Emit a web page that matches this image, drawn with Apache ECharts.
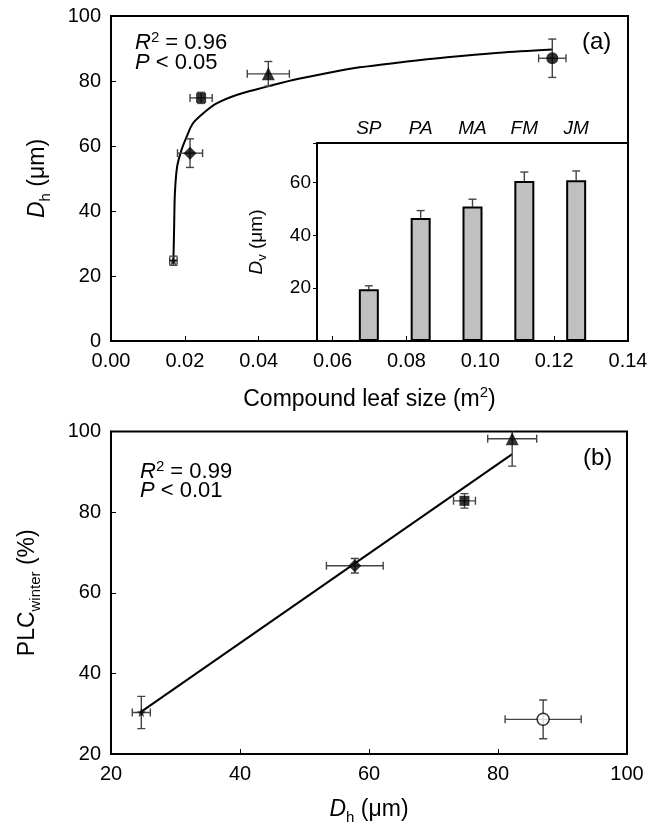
<!DOCTYPE html>
<html>
<head>
<meta charset="utf-8">
<script src="https://cdn.jsdelivr.net/npm/echarts@6/dist/echarts.min.js"></script>
<style>
  html, body { margin: 0; padding: 0; background: #fff; }
  #chart { width: 667px; height: 826px; }
</style>
</head>
<body>
<div id="chart"></div>
<script>
// point order: star, diamond, square, triangle, circle
const leafSize = [0.0169, 0.0214, 0.0244, 0.0426, 0.1195];
const leafSizeErr = [0.001, 0.0034, 0.003, 0.0057, 0.0037];
const dh = [24.7, 57.8, 74.8, 82.2, 87.0];
const dhErr = [1.4, 4.4, 1.7, 3.8, 5.9];
const plc = [30.3, 66.7, 82.8, 98.2, 28.6];
const plcErr = [4.0, 1.8, 1.8, 6.8, 4.8];

// fitted curve in (a)
const fitAX = [0.0169, 0.0171, 0.0173, 0.0179, 0.0191, 0.0205, 0.0222, 0.0250, 0.0286, 0.0340, 0.0403, 0.0493, 0.0583, 0.0673, 0.0781, 0.0910, 0.1051, 0.1195];
const fitAY = [24.7, 35.2, 45.4, 53.6, 58.8, 62.9, 67.0, 70.1, 73.1, 75.7, 77.7, 80.3, 82.4, 84.2, 85.7, 87.3, 88.7, 89.7];
// regression line in (b)
const fitBX = [24.7, 82.2];
const fitBY = [30.5, 94.4];

// inset bars
const species = ['SP', 'PA', 'MA', 'FM', 'JM'];
const dv = [19.6, 46.6, 50.9, 60.6, 60.9];
const dvErr = [1.3, 2.8, 2.8, 3.4, 3.5];

const FONT = '"Liberation Sans", Arial, sans-serif';
const starPath = 'path://M0,-10L2.35,-3.24L9.51,-3.09L3.8,1.24L5.88,8.09L0,4L-5.88,8.09L-3.8,1.24L-9.51,-3.09L-2.35,-3.24Z';
const diamondPath = 'path://M0,-10L10,0L0,10L-10,0Z';
const symbols = [starPath, diamondPath, 'rect', 'triangle', 'circle'];
const sizes = [9, 13, 10, 13, 12];

function errRender(params, api) {
  const x = api.value(0), y = api.value(1), ex = api.value(2), ey = api.value(3);
  const cap = 4;
  const style = { stroke: '#444', lineWidth: 1.4 };
  const l = api.coord([x - ex, y]), r = api.coord([x + ex, y]);
  const t = api.coord([x, y + ey]), b = api.coord([x, y - ey]);
  const shapes = [
    [l, r], [[l[0], l[1] - cap], [l[0], l[1] + cap]], [[r[0], r[1] - cap], [r[0], r[1] + cap]],
    [t, b], [[t[0] - cap, t[1]], [t[0] + cap, t[1]]], [[b[0] - cap, b[1]], [b[0] + cap, b[1]]]
  ];
  return {
    type: 'group',
    children: shapes.map(s => ({
      type: 'line',
      shape: { x1: s[0][0], y1: s[0][1], x2: s[1][0], y2: s[1][1] },
      style: style
    }))
  };
}

function barErrRender(params, api) {
  const x = api.value(0), y = api.value(1), ey = api.value(2);
  const top = api.coord([x, y + ey]), base = api.coord([x, y]);
  const style = { stroke: '#444', lineWidth: 1.4 };
  return {
    type: 'group',
    children: [
      { type: 'line', shape: { x1: base[0], y1: base[1], x2: top[0], y2: top[1] }, style: style },
      { type: 'line', shape: { x1: top[0] - 4, y1: top[1], x2: top[0] + 4, y2: top[1] }, style: style }
    ]
  };
}

function richSet(size, lh) {
  const sub = Math.round(size * 0.66);
  return {
    i: { fontStyle: 'italic', fontSize: size, fontFamily: FONT, color: '#000', lineHeight: lh, verticalAlign: 'middle' },
    n: { fontSize: size, fontFamily: FONT, color: '#000', lineHeight: lh, verticalAlign: 'middle' },
    sub: { fontSize: sub, fontFamily: FONT, color: '#000', lineHeight: sub, verticalAlign: 'bottom' },
    sup: { fontSize: sub, fontFamily: FONT, color: '#000', lineHeight: sub, verticalAlign: 'top' }
  };
}

const axisLine = { show: true, lineStyle: { color: '#000', width: 2 } };
const label20 = { color: '#000', fontSize: 20, fontFamily: FONT };
const richTitle = richSet(23, 30);
const richNote = richSet(22, 26);

const chart = echarts.init(document.getElementById('chart'), null, { renderer: 'canvas' });

const option = {
  backgroundColor: '#fff',
  animation: false,
  grid: [
    { left: 111, top: 16, width: 517, height: 325, show: true, borderColor: '#000', borderWidth: 2, backgroundColor: 'transparent' },
    { left: 111, top: 431.5, width: 516, height: 323.5, show: true, borderColor: '#000', borderWidth: 2, backgroundColor: 'transparent' },
    { left: 317, top: 143, width: 311, height: 198, show: true, borderColor: '#000', borderWidth: 2, backgroundColor: '#fff' }
  ],
  xAxis: [
    {
      gridIndex: 0, type: 'value', min: 0, max: 0.14, interval: 0.02,
      axisLine: axisLine, axisTick: { inside: true, length: 5, lineStyle: { color: '#000' } },
      axisLabel: Object.assign({ margin: 10, formatter: v => v.toFixed(2) }, label20),
      splitLine: { show: false },
      name: '{n|Compound leaf size (m}{sup|2}{n|)}', nameLocation: 'middle', nameGap: 44,
      nameTextStyle: { rich: richTitle }
    },
    {
      gridIndex: 1, type: 'value', min: 20, max: 100, interval: 20,
      axisLine: axisLine, axisTick: { inside: true, length: 5, lineStyle: { color: '#000' } },
      axisLabel: Object.assign({ margin: 10 }, label20),
      splitLine: { show: false },
      name: '{i|D}{sub|h}{n| (μm)}', nameLocation: 'middle', nameGap: 41,
      nameTextStyle: { rich: richTitle }
    },
    {
      gridIndex: 2, type: 'value', min: 0, max: 6, interval: 1, position: 'top',
      axisLine: axisLine, axisTick: { show: false },
      axisLabel: {
        margin: 5, color: '#000', fontSize: 19, fontStyle: 'italic', fontFamily: FONT,
        formatter: v => species[v - 1] || ''
      },
      splitLine: { show: false }
    }
  ],
  yAxis: [
    {
      gridIndex: 0, type: 'value', min: 0, max: 100, interval: 20,
      axisLine: axisLine, axisTick: { inside: true, length: 5, lineStyle: { color: '#000' } },
      axisLabel: Object.assign({ margin: 10 }, label20),
      splitLine: { show: false },
      name: '{i|D}{sub|h}{n| (μm)}', nameLocation: 'middle', nameGap: 58,
      nameTextStyle: { rich: richTitle }
    },
    {
      gridIndex: 1, type: 'value', min: 20, max: 100, interval: 20,
      axisLine: axisLine, axisTick: { inside: true, length: 5, lineStyle: { color: '#000' } },
      axisLabel: Object.assign({ margin: 10 }, label20),
      splitLine: { show: false },
      name: '{n|PLC}{sub|winter}{n| (%)}', nameLocation: 'middle', nameGap: 68,
      nameTextStyle: { rich: richTitle }
    },
    {
      gridIndex: 2, type: 'value', min: 0, max: 75, interval: 20,
      axisLine: axisLine, axisTick: { inside: false, length: 4, lineStyle: { color: '#000' } },
      axisLabel: {
        margin: 6, color: '#000', fontSize: 19, fontFamily: FONT,
        formatter: v => (v > 0 && v % 20 === 0) ? String(v) : ''
      },
      splitLine: { show: false },
      name: '{i|D}{sub|v}{n| (μm)}', nameLocation: 'middle', nameGap: 48,
      nameTextStyle: { rich: richSet(19, 24) }
    }
  ],
  series: [
    {
      type: 'line', xAxisIndex: 0, yAxisIndex: 0, smooth: 0.3,
      symbol: 'none', lineStyle: { color: '#000', width: 2 }, z: 2,
      data: fitAX.map((x, i) => [x, fitAY[i]])
    },
    {
      type: 'custom', xAxisIndex: 0, yAxisIndex: 0, renderItem: errRender, z: 3, clip: true,
      data: leafSize.map((x, i) => [x, dh[i], leafSizeErr[i], dhErr[i]])
    },
    {
      type: 'scatter', xAxisIndex: 0, yAxisIndex: 0, z: 4,
      data: leafSize.map((x, i) => ({
        value: [x, dh[i]], symbol: symbols[i], symbolSize: sizes[i]
      })),
      itemStyle: { color: '#000' }
    },
    {
      type: 'line', xAxisIndex: 1, yAxisIndex: 1, symbol: 'none',
      lineStyle: { color: '#000', width: 2 }, z: 2,
      data: fitBX.map((x, i) => [x, fitBY[i]])
    },
    {
      type: 'custom', xAxisIndex: 1, yAxisIndex: 1, renderItem: errRender, z: 3, clip: true,
      data: dh.map((x, i) => [x, plc[i], dhErr[i], plcErr[i]])
    },
    {
      type: 'scatter', xAxisIndex: 1, yAxisIndex: 1, z: 4,
      data: dh.map((x, i) => ({
        value: [x, plc[i]], symbol: symbols[i], symbolSize: sizes[i],
        itemStyle: i === 4 ? { color: '#fff', borderColor: '#000', borderWidth: 1.5 } : { color: '#000' }
      }))
    },
    {
      type: 'bar', xAxisIndex: 2, yAxisIndex: 2, barWidth: 20, z: 3,
      itemStyle: { color: '#c0c0c0', borderColor: '#000', borderWidth: 2 },
      data: dv.map((v, i) => [i + 1, v])
    },
    {
      type: 'custom', xAxisIndex: 2, yAxisIndex: 2, renderItem: barErrRender, z: 2,
      data: dv.map((v, i) => [i + 1, v, dvErr[i]])
    }
  ],
  graphic: [
    {
      type: 'text', left: 135, top: 30, z: 10,
      style: { text: '{i|R}{sup|2}{n| = 0.96}', rich: richNote }
    },
    {
      type: 'text', left: 135, top: 52, z: 10,
      style: { text: '{i|P}{n| < 0.05}', rich: richNote }
    },
    {
      type: 'text', left: 582, top: 30, z: 10,
      style: { text: '(a)', fontSize: 24, fontFamily: FONT, fill: '#000' }
    },
    {
      type: 'text', left: 140, top: 459, z: 10,
      style: { text: '{i|R}{sup|2}{n| = 0.99}', rich: richNote }
    },
    {
      type: 'text', left: 140, top: 480, z: 10,
      style: { text: '{i|P}{n| < 0.01}', rich: richNote }
    },
    {
      type: 'text', left: 583, top: 446, z: 10,
      style: { text: '(b)', fontSize: 24, fontFamily: FONT, fill: '#000' }
    }
  ]
};

chart.setOption(option);
</script>
</body>
</html>
